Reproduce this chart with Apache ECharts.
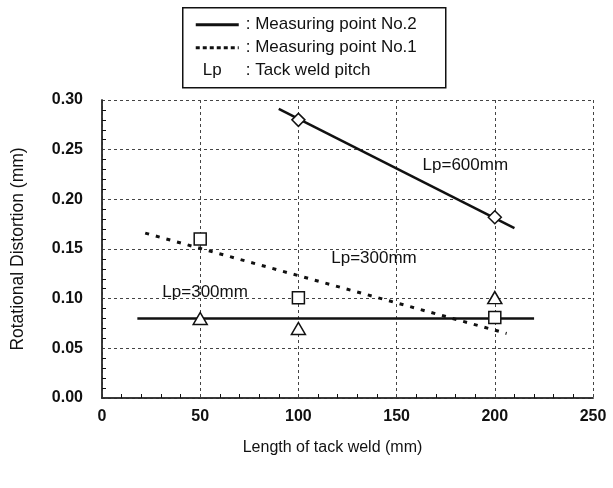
<!DOCTYPE html>
<html>
<head>
<meta charset="utf-8">
<script src="https://cdn.jsdelivr.net/npm/echarts@6/dist/echarts.min.js"></script>
<style>
  html, body { margin: 0; padding: 0; background: #fff; }
  #chart { width: 613px; height: 488px; }
</style>
</head>
<body>
<div id="chart"></div>
<script>
// x: length of tack weld (mm), y: rotational distortion (mm)
const xTicks = [0, 50, 100, 150, 200, 250];
const yTicks = [0, 0.05, 0.10, 0.15, 0.20, 0.25, 0.30];

// Measuring point No.2, Lp=600mm (diamonds + fit line)
const no2Lp600Points = [[100, 0.280], [200, 0.182]];
const no2Lp600Fit = [[90, 0.291], [210, 0.171]];

// Measuring point No.1, Lp=300mm (squares + dotted fit line)
const no1Lp300Points = [[50, 0.160], [100, 0.101], [200, 0.081]];
const no1Lp300Fit = [[22, 0.166], [206, 0.065]];

// Measuring point No.2, Lp=300mm (triangles + flat line)
const no2Lp300Points = [[50, 0.080], [100, 0.070], [200, 0.101]];
const no2Lp300Fit = [[18, 0.080], [220, 0.080]];

// in-plot text labels, placed at data coordinates
const annotations = [
  { text: 'Lp=600mm', coord: [185, 0.234] },
  { text: 'Lp=300mm', coord: [138.5, 0.141] },
  { text: 'Lp=300mm', coord: [52.5, 0.106] }
];

const font = '"Liberation Sans", Arial, sans-serif';
const ink = '#111';

const chart = echarts.init(document.getElementById('chart'), null, { renderer: 'canvas' });

// hollow marker style
const hollow = { color: '#fff', borderColor: ink, borderWidth: 1.5, opacity: 1 };

const legendBox = {
  type: 'group',
  left: 182,
  top: 7,
  children: [
    {
      type: 'rect',
      shape: { x: 0, y: 0, width: 263, height: 80 },
      style: { fill: '#fff', stroke: ink, lineWidth: 1.5 }
    },
    {
      type: 'line',
      shape: { x1: 13, y1: 17, x2: 56, y2: 17 },
      style: { stroke: ink, lineWidth: 3 }
    },
    {
      type: 'text',
      x: 63, y: 17,
      style: { text: ': Measuring point No.2', font: '17px ' + font, fill: ink, verticalAlign: 'middle' }
    },
    {
      type: 'line',
      shape: { x1: 13, y1: 40, x2: 56, y2: 40 },
      style: { stroke: ink, lineWidth: 3, lineDash: [4, 3] }
    },
    {
      type: 'text',
      x: 63, y: 40,
      style: { text: ': Measuring point No.1', font: '17px ' + font, fill: ink, verticalAlign: 'middle' }
    },
    {
      type: 'text',
      x: 20, y: 63,
      style: { text: 'Lp', font: '17px ' + font, fill: ink, verticalAlign: 'middle' }
    },
    {
      type: 'text',
      x: 63, y: 63,
      style: { text: ': Tack weld pitch', font: '17px ' + font, fill: ink, verticalAlign: 'middle' }
    }
  ]
};

const option = {
  backgroundColor: '#fff',
  animation: false,
  textStyle: { fontFamily: font },
  grid: { left: 102, right: 20, top: 100, bottom: 90, outerBoundsMode: 'none', containLabel: false },
  xAxis: [
    {
      type: 'value',
      min: xTicks[0],
      max: xTicks[xTicks.length - 1],
      interval: 50,
      name: 'Length of tack weld (mm)',
      nameLocation: 'middle',
      nameGap: 42,
      nameTextStyle: { fontSize: 16, color: ink, fontFamily: font, padding: [0, 30, 0, 0] },
      axisLine: { lineStyle: { color: ink, width: 1.5 } },
      axisTick: { show: false, inside: true },
      minorTick: { show: true, splitNumber: 5, length: 4, lineStyle: { color: ink, width: 1 } },
      axisLabel: { fontSize: 16, fontWeight: 'bold', color: ink, margin: 11, fontFamily: font },
      splitLine: { show: true, lineStyle: { color: '#444', type: [3, 3], width: 1 } }
    },
    {
      type: 'value',
      position: 'top',
      min: xTicks[0],
      max: xTicks[xTicks.length - 1],
      axisLine: { show: true, lineStyle: { color: '#333', width: 1.5 } },
      axisTick: { show: false },
      axisLabel: { show: false },
      splitLine: { show: false }
    }
  ],
  yAxis: [
    {
      type: 'value',
      min: yTicks[0],
      max: yTicks[yTicks.length - 1],
      interval: 0.05,
      name: 'Rotational Distortion (mm)',
      nameLocation: 'middle',
      nameGap: 75,
      nameTextStyle: { fontSize: 17.5, color: ink, fontFamily: font },
      axisLine: { show: true, lineStyle: { color: ink, width: 1.5 } },
      axisTick: { show: false, inside: true },
      minorTick: { show: true, splitNumber: 5, length: 4, lineStyle: { color: ink, width: 1 } },
      axisLabel: {
        fontSize: 16,
        fontWeight: 'bold',
        color: ink,
        margin: 19,
        fontFamily: font,
        formatter: v => v.toFixed(2)
      },
      splitLine: { show: true, lineStyle: { color: '#444', type: [3, 3], width: 1 } }
    },
    {
      type: 'value',
      position: 'right',
      min: yTicks[0],
      max: yTicks[yTicks.length - 1],
      axisLine: { show: true, lineStyle: { color: '#333', width: 1.5 } },
      axisTick: { show: false },
      axisLabel: { show: false },
      splitLine: { show: false }
    }
  ],
  series: [
    {
      name: 'No.2 Lp=600 fit',
      type: 'line',
      data: no2Lp600Fit,
      symbol: 'none',
      lineStyle: { color: ink, width: 2.5 },
      z: 2
    },
    {
      name: 'No.2 Lp=600',
      type: 'scatter',
      data: no2Lp600Points,
      symbol: 'diamond',
      symbolSize: [13, 13],
      itemStyle: hollow,
      z: 5
    },
    {
      name: 'No.1 Lp=300 fit',
      type: 'line',
      data: no1Lp300Fit,
      symbol: 'none',
      lineStyle: { color: ink, width: 3, type: [4, 7] },
      z: 2
    },
    {
      name: 'No.1 Lp=300',
      type: 'scatter',
      data: no1Lp300Points,
      symbol: 'rect',
      symbolSize: 12,
      itemStyle: hollow,
      z: 5
    },
    {
      name: 'No.2 Lp=300 fit',
      type: 'line',
      data: no2Lp300Fit,
      symbol: 'none',
      lineStyle: { color: ink, width: 2.5 },
      z: 2
    },
    {
      name: 'No.2 Lp=300',
      type: 'scatter',
      data: no2Lp300Points,
      symbol: 'triangle',
      symbolSize: [14, 12],
      itemStyle: hollow,
      z: 5
    }
  ],
  // legend box drawn by hand (it mixes line samples with an "Lp" abbreviation)
  graphic: [legendBox]
};

chart.setOption(option);

// place the "Lp=..." annotations through the axis scales
const annotationTexts = annotations.map(a => {
  const [px, py] = chart.convertToPixel({ gridIndex: 0 }, a.coord);
  return {
    type: 'text',
    x: px,
    y: py,
    z: 10,
    style: {
      text: a.text,
      font: '17px ' + font,
      fill: ink,
      align: 'center',
      verticalAlign: 'middle'
    }
  };
});
chart.setOption({ graphic: [legendBox].concat(annotationTexts) });
</script>
</body>
</html>
